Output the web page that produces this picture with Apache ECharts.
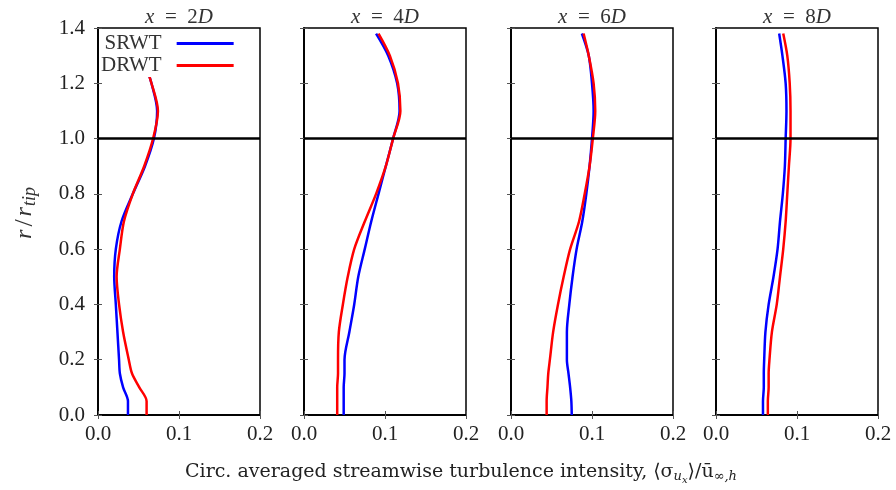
<!DOCTYPE html>
<html>
<head>
<meta charset="utf-8">
<script src="https://cdn.jsdelivr.net/npm/echarts@6/dist/echarts.min.js"></script>
<style>
    html, body { margin: 0; padding: 0; background: #fff; }
    #chart { width: 896px; height: 490px; }
</style>
</head>
<body>
<div id="chart"></div>
<script>
// radial positions r/r_tip shared by every profile
const rLevels = [0, 0.05, 0.1, 0.15, 0.2, 0.3, 0.4, 0.5, 0.6, 0.7, 0.8, 0.9, 1.0, 1.1, 1.2, 1.3, 1.38];

// circ. averaged turbulence intensity at each r level
const srwt2D = [0.037, 0.037, 0.031, 0.027, 0.026, 0.024, 0.022, 0.020, 0.022, 0.029, 0.043, 0.058, 0.069, 0.073, 0.066, 0.055, 0.043];
const drwt2D = [0.060, 0.060, 0.051, 0.042, 0.038, 0.031, 0.026, 0.023, 0.027, 0.032, 0.043, 0.057, 0.068, 0.074, 0.066, 0.055, 0.043];
const srwt4D = [0.049, 0.049, 0.049, 0.050, 0.050, 0.056, 0.062, 0.067, 0.075, 0.083, 0.092, 0.101, 0.110, 0.118, 0.115, 0.104, 0.089];
const drwt4D = [0.041, 0.041, 0.041, 0.042, 0.042, 0.043, 0.048, 0.054, 0.062, 0.075, 0.089, 0.101, 0.110, 0.119, 0.116, 0.106, 0.092];
const srwt6D = [0.075, 0.0745, 0.073, 0.071, 0.069, 0.069, 0.072, 0.076, 0.081, 0.088, 0.093, 0.097, 0.100, 0.102, 0.100, 0.096, 0.0875];
const drwt6D = [0.044, 0.044, 0.045, 0.046, 0.048, 0.052, 0.058, 0.065, 0.073, 0.084, 0.091, 0.097, 0.101, 0.104, 0.102, 0.096, 0.0896];
const srwt8D = [0.058, 0.058, 0.059, 0.059, 0.0595, 0.061, 0.065, 0.071, 0.076, 0.079, 0.0825, 0.085, 0.086, 0.087, 0.086, 0.082, 0.078];
const drwt8D = [0.064, 0.064, 0.065, 0.065, 0.066, 0.069, 0.075, 0.079, 0.083, 0.086, 0.088, 0.090, 0.092, 0.092, 0.091, 0.088, 0.083];

const panelNames = ['2D', '4D', '6D', '8D'];
const srwtData = [srwt2D, srwt4D, srwt6D, srwt8D];
const drwtData = [drwt2D, drwt4D, drwt6D, drwt8D];
const tipLine = 1.0;

const FONT = 'Liberation Serif';
const LABEL_FONT = 'DejaVu Serif';
const panelLeft = [98, 304, 511, 716];
const panelWidth = 162;

const chart = echarts.init(document.getElementById('chart'));

let grids = [], xAxes = [], yAxes = [], series = [], graphics = [];
panelNames.forEach(function (name, i) {
    grids.push({
        left: panelLeft[i], top: 28, width: panelWidth, height: 387,
        show: true, borderColor: '#000', borderWidth: 1.5, backgroundColor: '#fff'
    });
    ['bottom', 'top'].forEach(function (pos) {
        xAxes.push({
            type: 'value', gridIndex: i, position: pos, min: 0, max: 0.2, interval: 0.1,
            axisLine: { show: true, lineStyle: { color: '#000', width: 1.5 } },
            axisTick: { show: true, inside: true, length: 4, lineStyle: { color: '#555' } },
            axisLabel: {
                show: pos === 'bottom', margin: 9, fontFamily: FONT, fontSize: 21, color: '#222',
                formatter: function (v) { return v.toFixed(1); }
            },
            splitLine: { show: false }
        });
    });
    ['left', 'right'].forEach(function (pos) {
        yAxes.push({
            type: 'value', gridIndex: i, position: pos, min: 0, max: 1.4, interval: 0.2,
            axisLine: { show: true, lineStyle: { color: '#000', width: 1.5 } },
            axisTick: { show: true, inside: true, length: 4, lineStyle: { color: '#555' } },
            axisLabel: {
                show: pos === 'left' && i === 0, margin: 13, fontFamily: FONT, fontSize: 21, color: '#222',
                formatter: function (v) { return v.toFixed(1); }
            },
            splitLine: { show: false }
        });
    });
    series.push({
        name: 'SRWT', type: 'line', xAxisIndex: 2 * i, yAxisIndex: 2 * i,
        smooth: 0.3, showSymbol: false, symbol: 'none',
        lineStyle: { color: '#0000ff', width: 2.5 }, itemStyle: { color: '#0000ff' },
        data: rLevels.map(function (r, k) { return [srwtData[i][k], r]; })
    });
    series.push({
        name: 'DRWT', type: 'line', xAxisIndex: 2 * i, yAxisIndex: 2 * i,
        smooth: 0.3, showSymbol: false, symbol: 'none',
        lineStyle: { color: '#ff0000', width: 2.5 }, itemStyle: { color: '#ff0000' },
        data: rLevels.map(function (r, k) { return [drwtData[i][k], r]; }),
        markLine: {
            silent: true, symbol: 'none', label: { show: false },
            lineStyle: { color: '#000', width: 2.5, type: 'solid' },
            data: [{ yAxis: tipLine }]
        }
    });
    // panel title, e.g. x = 2D
    graphics.push({
        type: 'text', x: panelLeft[i] + panelWidth / 2, y: 7,
        style: {
            text: '{i|x}{n|\u2002=\u2002' + name.slice(0, 1) + '}{i|' + name.slice(1) + '}',
            textAlign: 'center',
            fontFamily: FONT, fontSize: 21, fill: '#333',
            rich: {
                i: { fontStyle: 'italic', fontSize: 21, fontFamily: FONT, color: '#333' },
                n: { fontSize: 21, fontFamily: FONT, color: '#333' }
            }
        }
    });
});

graphics.push({
    type: 'text', x: 461, y: 459,
    style: {
        text: '{n|Circ. averaged streamwise turbulence intensity, \u27e8\u03c3}{s|u}{ss|x}{n|\u27e9/\u016b}{s|\u221e,h}',
        textAlign: 'center', fontFamily: LABEL_FONT, fontSize: 19, fill: '#222',
        rich: {
            n: { fontSize: 19, fontFamily: LABEL_FONT, color: '#222' },
            s: { fontSize: 13, fontFamily: LABEL_FONT, fontStyle: 'italic', padding: [10, 0, 0, 0], color: '#222' },
            ss: { fontSize: 10, fontFamily: LABEL_FONT, fontStyle: 'italic', padding: [16, 0, 0, 0], color: '#222' }
        }
    }
});
graphics.push({
    type: 'text', x: 25, y: 213, rotation: Math.PI / 2,
    style: {
        text: '{i|r}{n|/}{i|r}{s|tip}', textAlign: 'center', textVerticalAlign: 'middle',
        fontFamily: FONT, fontSize: 24, fill: '#333',
        rich: {
            i: { fontSize: 24, fontFamily: FONT, fontStyle: 'italic', color: '#333' },
            n: { fontSize: 26, fontFamily: FONT, color: '#333', padding: [0, 3, 0, 3] },
            s: { fontSize: 18, fontFamily: FONT, fontStyle: 'italic', padding: [11, 0, 0, 1], color: '#333' }
        }
    }
});

chart.setOption({
    animation: false,
    backgroundColor: '#fff',
    legend: {
        data: ['SRWT', 'DRWT'],
        orient: 'vertical', align: 'right',
        left: 99, top: 32,
        icon: 'rect', itemWidth: 57, itemHeight: 3, itemGap: 1,
        backgroundColor: '#fff', padding: [1, 2, 1, 2],
        textStyle: { fontFamily: FONT, fontSize: 21, lineHeight: 20, color: '#333', padding: [0, 10, 0, 0] }
    },
    grid: grids,
    xAxis: xAxes,
    yAxis: yAxes,
    series: series,
    graphic: graphics
});
</script>
</body>
</html>
